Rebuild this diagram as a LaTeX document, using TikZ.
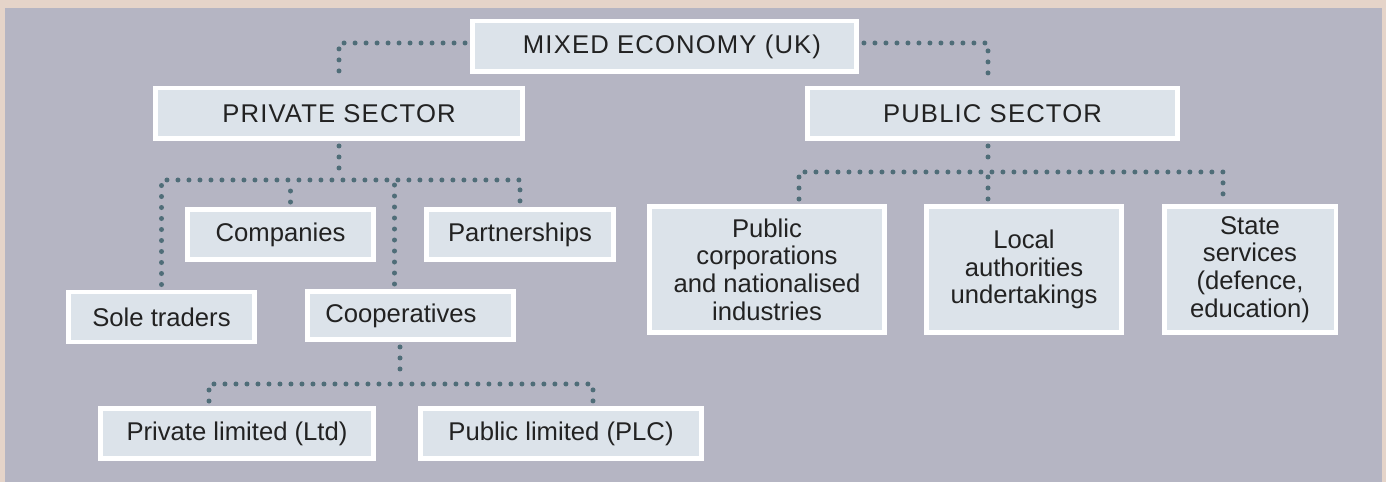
\documentclass[tikz,border=0pt]{standalone}
\usepackage{fontspec}
\setmainfont{Liberation Sans}
\newfontfamily\headfont[LetterSpace=4.5]{Liberation Sans}
\usetikzlibrary{positioning}

\definecolor{paper}{HTML}{E5D4C9}
\definecolor{panel}{HTML}{B5B5C3}
\definecolor{boxfill}{HTML}{DCE3EA}
\definecolor{dotcol}{HTML}{4F6D78}
\definecolor{ink}{HTML}{222222}

\begin{document}
\begin{tikzpicture}[x=0.02cm,y=-0.02cm,
  main node/.style={draw=white,line width=0.09cm,fill=boxfill,text=ink,inner sep=0pt,
    align=center,font=\fontsize{14.6}{15.8}\selectfont},
  low node/.style={main node,minimum height=1.01cm},
  head node/.style={low node,font=\fontsize{14.6}{15.8}\selectfont\headfont},
  tall node/.style={main node,minimum height=2.53cm},
  link/.style={draw=dotcol,line width=0.1cm,line cap=round,
    dash pattern=on 0pt off 0.22cm,shorten <=0.1cm,shorten >=0.1cm}]
  % background
  \fill[paper] (0,0) rectangle (1386,482);
  \fill[panel] (5,8) rectangle (1382,482);

  \node[head node,minimum width=7.69cm] (mixed) at (664.5,46.5) {\hspace*{0.3cm}MIXED ECONOMY (UK)};
  \node[head node,minimum width=7.35cm] (priv) at (339,113.5) {PRIVATE SECTOR};
  \node[head node,minimum width=7.41cm] (pub) at (992.5,113.5) {PUBLIC SECTOR};

  \node[low node,minimum width=3.73cm] (comp) at (280.5,234.5) {Companies};
  \node[low node,minimum width=3.75cm] (partn) at (520,234.5) {Partnerships};
  \node[low node,minimum width=3.73cm] (sole) at (161.5,317) {Sole traders};
  \node[low node,minimum width=4.13cm,minimum height=0.97cm] (coop) at (410.5,315.5) {\hspace*{-0.38cm}Cooperatives};
  \node[low node,minimum width=5.47cm] (ltd) at (237,433.5) {Private limited (Ltd)};
  \node[low node,minimum width=5.63cm] (plc) at (561,433.5) {Public limited (PLC)};

  \node[tall node,minimum width=4.71cm] (corp) at (767,269.5) {Public\\corporations\\and nationalised\\industries};
  \node[tall node,minimum width=3.91cm] (local) at (1024,269.5) {Local\\authorities\\undertakings};
  \node[tall node,minimum width=3.43cm] (state) at (1250,269.5) {State\\services\\(defence,\\education)};

  \coordinate (pvbar) at (339,180);
  \coordinate (cobar) at (400,384);
  \coordinate (pbbar) at (988,172);

  \draw[link] ([yshift=0.07cm]mixed.west) -| (priv.north);
  \draw[link] ([yshift=0.07cm]mixed.east) -| ([xshift=-0.09cm]pub.north);

  \draw[link] (priv.south) -- (pvbar);
  \draw[link] (sole.north) |- (pvbar) -| (partn.north);
  \draw[link] ([xshift=0.2cm]comp.north) -- ([xshift=0.2cm]comp.north |- pvbar);
  \draw[link] ([xshift=-0.32cm]coop.north) -- ([xshift=-0.32cm]coop.north |- pvbar);

  \draw[link] ([xshift=-0.21cm]coop.south) -- (cobar);
  \draw[link] ([xshift=-0.56cm]ltd.north) |- (cobar) -| ([xshift=0.64cm]plc.north);

  \draw[link] ([xshift=-0.09cm]pub.south) -- (pbbar);
  \draw[link] ([xshift=0.64cm]corp.north) |- (pbbar) -| ([xshift=-0.54cm]state.north);
  \draw[link] (pbbar) -- (pbbar |- local.north);
\end{tikzpicture}
\end{document}
